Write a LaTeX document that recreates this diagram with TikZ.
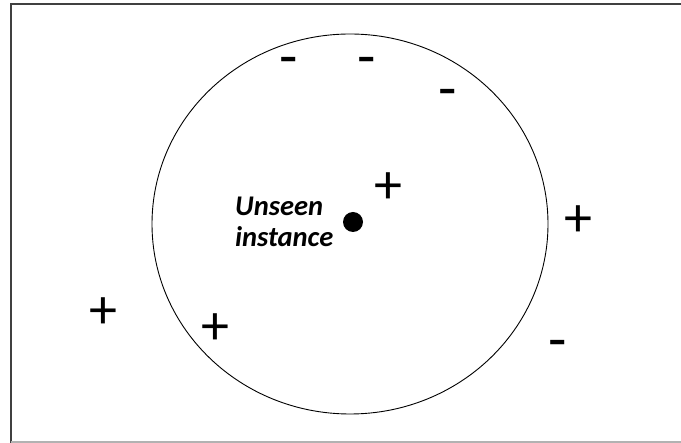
\documentclass[tikz,border=0pt]{standalone}
\usepackage{fontspec}
\setmainfont{Carlito}
\usetikzlibrary{positioning}

\begin{document}
\begin{tikzpicture}[
    x=1pt, y=-1pt,
    frame/.style={line width=2pt, black!75},
    plus/.style={anchor=base, inner sep=0pt, font=\fontsize{56}{56}\selectfont, yshift=-18.5pt},
    minus/.style={anchor=base, inner sep=0pt, font=\fontsize{60}{60}\selectfont, yshift=-16pt},
    label/.style={anchor=north west, inner sep=0pt, align=left, font=\fontsize{28.5}{31}\selectfont\bfseries\itshape}
]
\useasboundingbox (0,0) rectangle (681,443);
% frame of the screenshot
\draw[frame] (10.5,443) -- (10.5,3.8) -- (681,3.8);
\draw[line width=1.5pt, black!30] (10.5,442.2) -- (681,442.2);

% neighbourhood of the query
\draw[line width=0.9pt] (350,224) ellipse [x radius=198pt, y radius=190pt];

% unseen instance
\node[circle, fill=black, inner sep=0pt, minimum size=20pt] (query) at (353,222) {};
\node[label] (querytext) at (235,197) {Unseen\\instance};

% positive examples
\node[plus] (pos1) at (388,185) {+};
\node[plus] (pos2) at (578,218) {+};
\node[plus] (pos3) at (103,310) {+};
\node[plus] (pos4) at (215,326) {+};

% negative examples
\node[minus] (neg1) at (289,61) {-};
\node[minus] (neg2) at (367,61) {-};
\node[minus] (neg3) at (448,93) {-};
\node[minus] (neg4) at (558,344) {-};
\end{tikzpicture}
\end{document}
